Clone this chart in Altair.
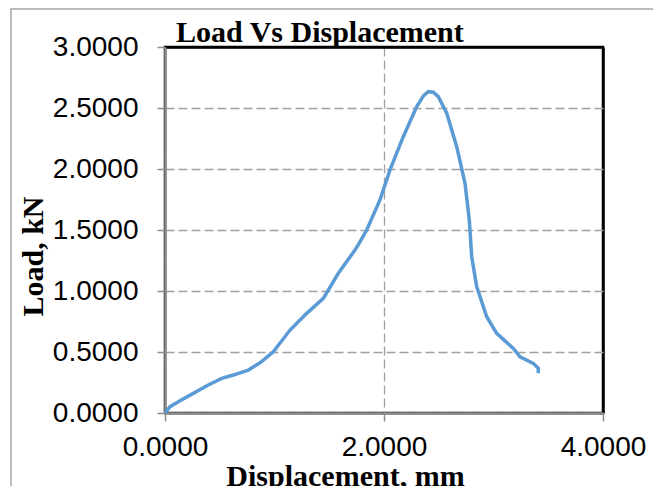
import altair as alt
import pandas as pd

disp = [0.0, 0.046, 0.121, 0.258, 0.395, 0.518, 0.624, 0.761, 0.868, 0.989, 1.142,
        1.294, 1.446, 1.583, 1.735, 1.766, 1.842, 1.963, 2.055, 2.176, 2.299, 2.36,
        2.405, 2.45, 2.496, 2.573, 2.664, 2.740, 2.779, 2.801, 2.847, 2.938, 3.029,
        3.181, 3.242, 3.363, 3.409, 3.409]
load = [0.0, 0.052, 0.093, 0.161, 0.230, 0.284, 0.311, 0.352, 0.412, 0.502, 0.680,
        0.817, 0.940, 1.145, 1.336, 1.38, 1.5, 1.746, 1.992, 2.265, 2.511, 2.60,
        2.634, 2.63, 2.593, 2.457, 2.183, 1.883, 1.582, 1.281, 1.035, 0.789, 0.653,
        0.530, 0.461, 0.407, 0.366, 0.325]
x_ticks = [0, 2, 4]
y_ticks = [0, 0.5, 1.0, 1.5, 2.0, 2.5, 3.0]

df = pd.DataFrame({"disp": disp, "load": load, "idx": list(range(len(disp)))})

frame = alt.Chart(pd.DataFrame({"a": [0]})).mark_rect(
    fill="transparent", stroke="#a6a6a6", strokeWidth=1.5
).encode(
    x=alt.value(-154), x2=alt.value(700), y=alt.value(-38), y2=alt.value(600)
)

line = alt.Chart(df).mark_line(color="#5B9BD5", strokeWidth=3.5).encode(
    x=alt.X("disp:Q", scale=alt.Scale(domain=[0, 4], nice=False),
            axis=alt.Axis(values=x_ticks, format=".4f", title="Displacement, mm",
                          grid=True, labelPadding=12, labelFlush=False,
                          gridColor=alt.condition("datum.value == 4", alt.value("black"), alt.value("#a0a0a0")),
                          gridDash=alt.condition("datum.value == 4", alt.value([1, 0]), alt.value([9, 4])),
                          gridWidth=alt.condition("datum.value == 4", alt.value(2.5), alt.value(1.3)),
                          titleX=180, titleY=72, titleBaseline="alphabetic",
                          titleAlign="center")),
    y=alt.Y("load:Q", scale=alt.Scale(domain=[0, 3], nice=False),
            axis=alt.Axis(values=y_ticks, format=".4f", title="Load, kN",
                          grid=True, labelPadding=19,
                          gridColor=alt.condition("datum.value == 3", alt.value("black"), alt.value("#a0a0a0")),
                          gridDash=alt.condition("datum.value == 3", alt.value([1, 0]), alt.value([9, 4])),
                          gridWidth=alt.condition("datum.value == 3", alt.value(2.5), alt.value(1.3)),
                          titleX=-132, titleY=209, titleAngle=-90,
                          titleAlign="center", titleBaseline="middle")),
    order="idx:Q",
)

chart = alt.layer(frame, line).properties(
    width=438, height=366,
    background="white",
    title=alt.TitleParams("Load Vs Displacement", anchor="start", dx=11, dy=32, offset=-32,
                          frame="group", baseline="alphabetic",
                          font="Liberation Serif", fontSize=30, fontWeight="bold",
                          color="black"),
    autosize=alt.AutoSizeParams(type="none"),
    padding={"left": 157, "top": 39, "right": 50, "bottom": 73},
).configure_view(
    stroke="black", strokeWidth=2.5
).configure_axis(
    labelFont="Liberation Sans", labelFontSize=28, labelColor="black",
    titleFont="Liberation Serif", titleFontSize=30, titleFontWeight="bold",
    titleColor="black",
    domainColor="#8a8a8a", domainWidth=2.5,
    tickColor="#8a8a8a", tickSize=8, tickWidth=1.5,
)

chart.save("out.html", embed_options={"renderer": "svg", "actions": False})
